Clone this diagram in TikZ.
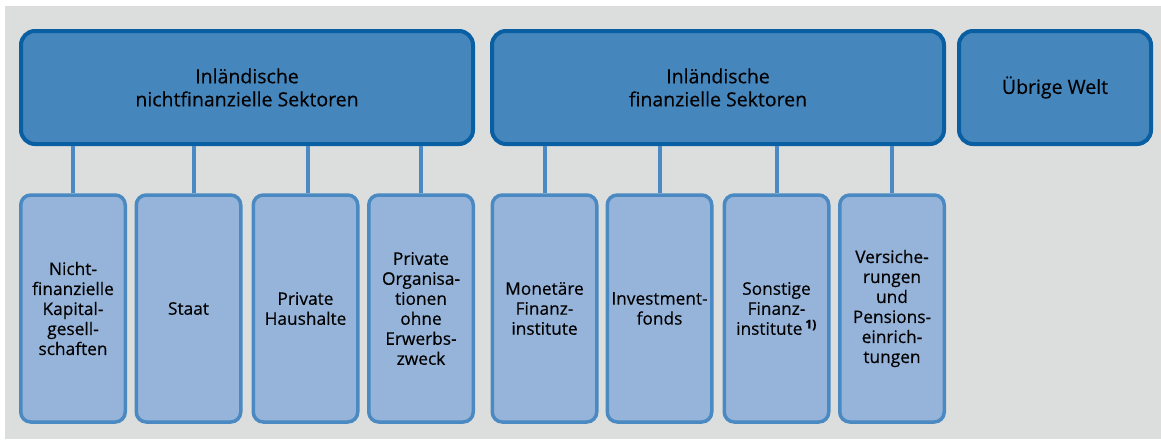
\documentclass[tikz,border=0pt]{standalone}
\usepackage{fontspec}
\setmainfont[FakeBold=0.35]{Open Sans}
\definecolor{bggray}{HTML}{DCDEDD}
\definecolor{sekfill}{HTML}{4586BD}
\definecolor{sekdraw}{HTML}{0A5FA3}
\definecolor{subfill}{HTML}{96B4D9}
\definecolor{subdraw}{HTML}{4A89C1}
\begin{document}
\begin{tikzpicture}[x=1pt,y=-1pt,
		sektor/.style={draw=sekdraw,fill=sekfill,line width=4pt,rounded corners=14pt,
			minimum height=113pt,align=center,font=\fontsize{19.5}{23}\selectfont,inner sep=0pt},
		teil/.style={draw=subdraw,fill=subfill,line width=3.5pt,rounded corners=10pt,
			minimum width=104.5pt,minimum height=227pt,align=center,
			font=\fontsize{17.3}{20}\selectfont,inner sep=0pt},
		verb/.style={draw=subdraw,line width=4pt}]
		\fill [white] (0,0) rectangle (1161,439);
		\fill [bggray] (5,6) rectangle (1161,439);
		\node [sektor,minimum width=452pt] (nfin) at (247,87.5) {Inländische\\nichtfinanzielle Sektoren};
		\node [sektor,minimum width=452pt] (fin) at (718,87.5) {Inländische\\finanzielle Sektoren};
		\node [sektor,minimum width=192pt] (welt) at (1055,87.5) {Übrige Welt};
		\node [teil] (kapges) at (73,308.5) {Nicht-\\finanzielle\\Kapital-\\gesell-\\schaften};
		\node [teil] (staat) at (188.5,308.5) {Staat};
		\node [teil] (haush) at (305.5,308.5) {Private\\Haushalte};
		\node [teil] (orga) at (421,308.5) {Private\\Organisa-\\tionen\\ohne\\Erwerbs-\\zweck};
		\node [teil] (mfi) at (544.5,308.5) {Monetäre\\Finanz-\\institute};
		\node [teil] (invf) at (659.5,308.5) {Investment-\\fonds};
		\node [teil] (sfi) at (776.5,308.5) {Sonstige\\Finanz-\\institute\,\textsuperscript{\bfseries 1)}};
		\node [teil] (vers) at (892,308.5) {Versiche-\\rungen\\und\\Pensions-\\einrich-\\tungen};
		\draw [verb] (kapges.north) -- (kapges.north |- nfin.south);
		\draw [verb] ([xshift=5pt]staat.north) -- ([xshift=5pt]staat.north |- nfin.south);
		\draw [verb] ([xshift=2pt]haush.north) -- ([xshift=2pt]haush.north |- nfin.south);
		\draw [verb] (orga.north) -- (orga.north |- nfin.south);
		\draw [verb] (mfi.north) -- (mfi.north |- fin.south);
		\draw [verb] (invf.north) -- (invf.north |- fin.south);
		\draw [verb] (sfi.north) -- (sfi.north |- fin.south);
		\draw [verb] (vers.north) -- (vers.north |- fin.south);
		\useasboundingbox (0,0) rectangle (1161,439);
	\end{tikzpicture}
\end{document}
